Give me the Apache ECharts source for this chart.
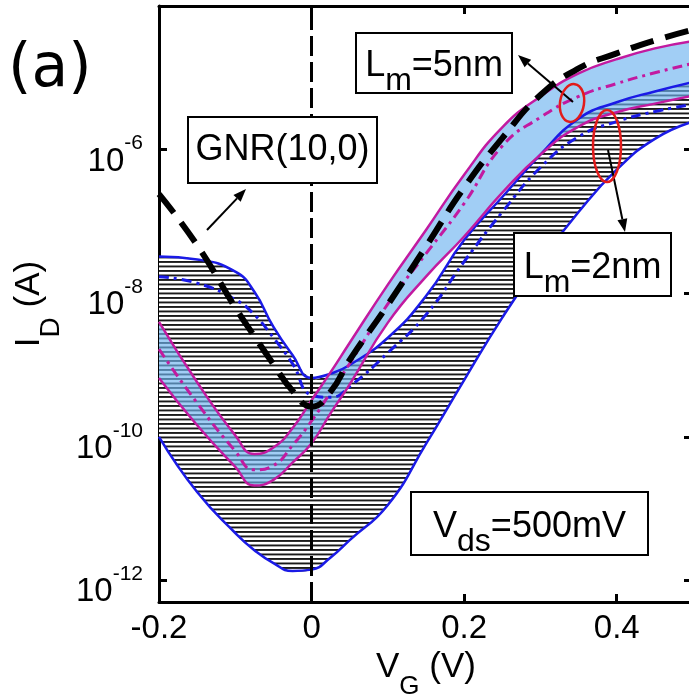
<!DOCTYPE html>
<html>
<head>
<meta charset="utf-8">
<script src="https://cdn.jsdelivr.net/npm/echarts@6/dist/echarts.min.js"></script>
<style>
  html, body { margin: 0; padding: 0; background: #fff; }
  #chart { width: 689px; height: 696px; }
</style>
</head>
<body>
<div id="chart"></div>
<script>
// gate voltage V_G (V)
var vg = [-0.2, -0.15, -0.1, -0.075, -0.05, -0.025, 0, 0.025, 0.05, 0.1, 0.15, 0.2, 0.25, 0.3, 0.35, 0.4, 0.45, 0.5];

// drain current, stored as log10(I_D / A)
var gnr     = [-6.62, -7.33, -8.20, -8.60, -8.99, -9.36, -9.58, -9.37, -8.93, -8.16, -7.35, -6.53, -5.84, -5.24, -4.87, -4.66, -4.48, -4.33];
// L_m = 5nm band (upper / mean / lower)
var magUp   = [-8.40, -9.24, -9.98, -10.24, -10.15, -9.88, -9.49, -9.10, -8.69, -7.88, -7.12, -6.35, -5.69, -5.26, -4.94, -4.74, -4.59, -4.49];
var magMid  = [-8.78, -9.53, -10.20, -10.46, -10.40, -10.12, -9.78, -9.38, -8.98, -8.15, -7.45, -6.75, -5.95, -5.55, -5.26, -5.08, -4.93, -4.80];
var magLow  = [-9.18, -9.84, -10.42, -10.68, -10.60, -10.36, -10.09, -9.67, -9.27, -8.41, -7.77, -7.21, -6.60, -6.07, -5.68, -5.48, -5.36, -5.25];
// L_m = 2nm band (upper / mean / lower)
var blueUp  = [-7.49, -7.53, -7.70, -7.98, -8.47, -8.86, -9.18, -9.12, -9.00, -8.62, -8.04, -7.26, -6.66, -6.07, -5.57, -5.34, -5.19, -5.06];
var blueMid = [-7.77, -7.86, -8.09, -8.30, -8.62, -8.98, -9.42, -9.45, -9.30, -8.83, -8.30, -7.56, -6.87, -6.25, -5.82, -5.61, -5.47, -5.37];
var blueLow = [-10.00, -10.77, -11.34, -11.58, -11.76, -11.87, -11.85, -11.68, -11.44, -10.95, -10.10, -9.21, -8.34, -7.56, -6.87, -6.28, -5.85, -5.61];

var yTicks = [1e-12, 1e-10, 1e-8, 1e-6];
var xLabels = { '-0.2': '-0.2', '0': '0', '0.2': '0.2', '0.4': '0.4' };

var FONT = 'Liberation Sans, Arial, sans-serif';
var BLUE = '#1a1ae6';
var MAG = '#c21aa0';

function toPts(logs) {
  return vg.map(function (v, i) { return [v, Math.pow(10, logs[i])]; });
}

// horizontal hatch pattern, about 4.5px pitch
var hatch = document.createElement('canvas');
hatch.width = 8; hatch.height = 9;
var hctx = hatch.getContext('2d');
hctx.fillStyle = '#fff'; hctx.fillRect(0, 0, 8, 9);
hctx.fillStyle = '#1a1a1a';
hctx.fillRect(0, 0, 8, 1.9);
hctx.fillRect(0, 4.5, 8, 1.9);

function areaSeries(upper, lower, fill, z) {
  return {
    type: 'custom', silent: true, clip: true, z: z,
    data: [[0, 1e-9]],
    renderItem: function (params, api) {
      var up = upper.map(function (v, i) { return api.coord([vg[i], Math.pow(10, v)]); });
      var lo = lower.map(function (v, i) { return api.coord([vg[i], Math.pow(10, v)]); }).reverse();
      // corners doubled so the closed smooth outline keeps square ends
      var pts = [up[0]].concat(up, [up[up.length - 1], lo[0]], lo, [lo[lo.length - 1]]);
      return { type: 'polygon', shape: { points: pts, smooth: 0.5 }, style: { fill: fill, stroke: null } };
    }
  };
}

function lineSeries(logs, color, width, type, z) {
  return {
    type: 'line', data: toPts(logs), smooth: 0.5, symbol: 'none', silent: true, z: z,
    lineStyle: { color: color, width: width, type: type }
  };
}

function arrow(x1, y1, x2, y2) {
  var a = Math.atan2(y2 - y1, x2 - x1), L = 13, W = 5;
  var bx = x2 - L * Math.cos(a), by = y2 - L * Math.sin(a);
  return [
    { type: 'line', z: 100, shape: { x1: x1, y1: y1, x2: bx, y2: by }, style: { stroke: '#000', lineWidth: 2 } },
    { type: 'polygon', z: 100, shape: { points: [[x2, y2], [bx + W * Math.sin(a), by - W * Math.cos(a)], [bx - W * Math.sin(a), by + W * Math.cos(a)]] }, style: { fill: '#000' } }
  ];
}

function box(x, y, w, h) {
  return { type: 'rect', z: 100, shape: { x: x, y: y, width: w, height: h }, style: { fill: '#fff', stroke: '#000', lineWidth: 2 } };
}

var boxRich = {
  a: { fontSize: 36, fontFamily: FONT, lineHeight: 36, verticalAlign: 'top', color: '#000' },
  s: { fontSize: 32, fontFamily: FONT, lineHeight: 32, padding: [17, 0, 0, 0], verticalAlign: 'top', color: '#000' }
};

function label(text, x, y) {
  return { type: 'text', z: 101, x: x, y: y, style: { text: text, rich: boxRich, font: '36px ' + FONT, fill: '#000', align: 'center', verticalAlign: 'middle' } };
}

var graphics = [
  { type: 'text', z: 101, x: 8, y: 70, style: { text: '(a)', font: '60px DejaVu Sans', fill: '#000', verticalAlign: 'middle' } },
  box(188, 117, 189, 66),
  { type: 'text', z: 101, x: 282.5, y: 150, style: { text: 'GNR(10,0)', font: '36px ' + FONT, fill: '#000', align: 'center', verticalAlign: 'middle' } },
  box(356, 33, 156, 60),
  label('{a|L}{s|m}{a|=5nm}', 434, 66),
  box(514, 233, 157, 63),
  label('{a|L}{s|m}{a|=2nm}', 592.5, 268),
  box(411, 492, 237, 63),
  label('{a|V}{s|ds}{a|=500mV}', 529.5, 527),
  { type: 'ellipse', z: 102, x: 572, y: 103, rotation: -0.15, shape: { cx: 0, cy: 0, rx: 12, ry: 19 }, style: { fill: null, stroke: '#e21b1b', lineWidth: 2.5 } },
  { type: 'ellipse', z: 102, x: 607, y: 146, shape: { cx: 0, cy: 0, rx: 14, ry: 36 }, style: { fill: null, stroke: '#e21b1b', lineWidth: 2.5 } }
].concat(arrow(207, 230, 246, 189), arrow(573, 102, 518, 55), arrow(608, 150, 625, 232));

var axisLine = { show: true, onZero: false, lineStyle: { color: '#000', width: 3 } };
var axisTick = { show: true, inside: true, length: 8, lineStyle: { color: '#000', width: 3 } };

var option = {
  animation: false,
  backgroundColor: '#fff',
  // the right edge of the frame (V_G = 0.5) falls just outside the picture
  grid: { left: 159, width: 534, top: 6, bottom: 94, containLabel: false, outerBoundsMode: 'none' },
  xAxis: [{
    type: 'value', min: -0.2, max: 0.5, interval: 0.2, position: 'bottom',
    axisLine: axisLine, axisTick: axisTick, splitLine: { show: false },
    axisLabel: {
      color: '#000', fontFamily: FONT, fontSize: 33, margin: 10, showMaxLabel: false,
      formatter: function (v) { return xLabels[String(Math.round(v * 10) / 10)] || ''; }
    },
    name: '{m|V}{g|G}{m| (V)}', nameLocation: 'middle', nameGap: 39,
    nameTextStyle: {
      rich: {
        m: { fontSize: 35, fontFamily: FONT, lineHeight: 36, verticalAlign: 'top', color: '#000' },
        g: { fontSize: 26, fontFamily: FONT, lineHeight: 26, padding: [24, 0, 0, 0], verticalAlign: 'top', color: '#000' }
      }
    }
  }, {
    type: 'value', min: -0.2, max: 0.5, interval: 0.2, position: 'top',
    axisLine: axisLine, axisTick: axisTick, axisLabel: { show: false }, splitLine: { show: false }
  }],
  yAxis: [{
    type: 'log', logBase: 10, min: 5e-13, max: 1e-4, position: 'left',
    axisLine: axisLine, splitLine: { show: false }, minorTick: { show: false },
    axisTick: { show: true, inside: true, length: 8, lineStyle: { color: '#000', width: 3 }, customValues: yTicks },
    axisLabel: {
      customValues: yTicks, margin: 16,
      formatter: function (v) { return '{b|10}{s|' + Math.round(Math.log10(v)) + '}'; },
      rich: {
        b: { fontSize: 33, fontFamily: FONT, lineHeight: 33, padding: [12, 0, 12, 0], verticalAlign: 'top', color: '#000' },
        s: { fontSize: 21, fontFamily: FONT, lineHeight: 22, verticalAlign: 'top', color: '#000' }
      }
    },
    name: '{m|I}{d|D}{m| (A)}', nameLocation: 'middle', nameGap: 86, nameRotate: 90,
    nameTextStyle: {
      rich: {
        m: { fontSize: 35, fontFamily: FONT, lineHeight: 36, verticalAlign: 'top', color: '#000' },
        d: { fontSize: 28, fontFamily: FONT, lineHeight: 28, padding: [25, 0, 0, 0], verticalAlign: 'top', color: '#000' }
      }
    }
  }, {
    type: 'log', logBase: 10, min: 5e-13, max: 1e-4, position: 'right',
    axisLine: axisLine, splitLine: { show: false }, axisLabel: { show: false },
    axisTick: { show: true, inside: true, length: 9, lineStyle: { color: '#000', width: 3 }, customValues: yTicks }
  }],
  series: [
    areaSeries(blueUp, blueLow, { image: hatch, repeat: 'repeat' }, 1),
    areaSeries(magUp, magLow, 'rgba(110,180,240,0.65)', 2),
    lineSeries(blueUp, BLUE, 2.5, 'solid', 3),
    lineSeries(blueLow, BLUE, 2.5, 'solid', 3),
    lineSeries(blueMid, BLUE, 3, [10, 5, 3, 5], 3),
    lineSeries(magUp, MAG, 2.5, 'solid', 4),
    lineSeries(magLow, MAG, 2.5, 'solid', 4),
    lineSeries(magMid, MAG, 3, [10, 5, 3, 5], 4),
    Object.assign(lineSeries(gnr, '#000', 6, [24, 12], 5), {
      markLine: {
        silent: true, symbol: 'none', label: { show: false },
        lineStyle: { color: '#000', width: 3, type: [20, 6] },
        data: [{ xAxis: 0 }]
      }
    })
  ],
  graphic: graphics
};

var chart = echarts.init(document.getElementById('chart'), null, { renderer: 'canvas' });
chart.setOption(option);
</script>
</body>
</html>
